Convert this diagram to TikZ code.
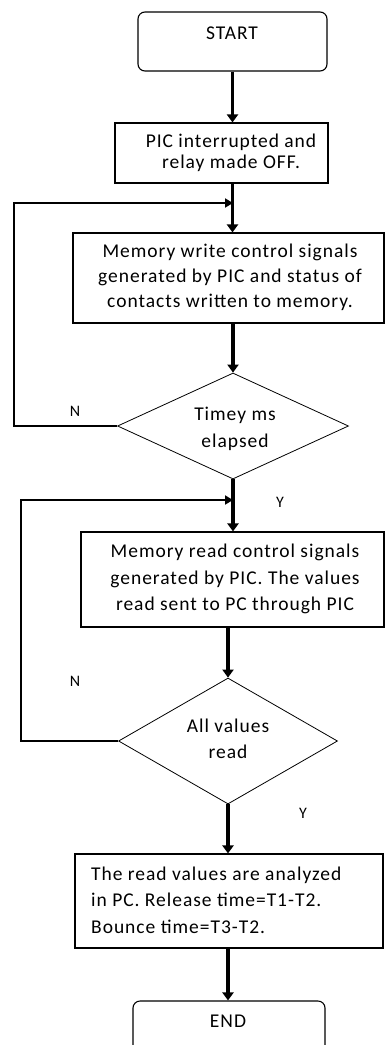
\documentclass[tikz,border=0pt]{standalone}
\usepackage{fontspec}
\setmainfont{Carlito}[LetterSpace=5]
\usetikzlibrary{shapes.geometric,arrows.meta}
\begin{document}
\begin{tikzpicture}[x=1pt,y=-1pt,
  box/.style={draw,line width=1.1pt,inner sep=0pt,rectangle},
  term/.style={draw,line width=1.1pt,rounded corners=7pt,inner sep=0pt,rectangle},
  dec/.style={draw,diamond,line width=0.8pt,inner sep=0pt,aspect=2},
  flow/.style={line width=3.6pt,-{Triangle[length=8pt,width=11pt]}},
  back/.style={line width=1.8pt,-{Triangle[length=8pt,width=9pt]}},
  txt/.style={font=\fontsize{19.5}{25}\selectfont,align=center,inner sep=0pt},
  lab/.style={font=\fontsize{16}{18}\selectfont,inner sep=0pt}]
\clip (0,0) rectangle (385,1045);
% shapes
\node[term,minimum width=189pt,minimum height=59pt] (start) at (232.5,41.5) {};
\node[box,minimum width=213pt,minimum height=60pt] (b2) at (221.5,153) {};
\node[box,minimum width=311pt,minimum height=90pt] (b3) at (228.5,278) {};
\node[dec,minimum width=231pt,minimum height=106pt] (d1) at (233,426) {};
\node[box,minimum width=303pt,minimum height=95pt] (b4) at (232.5,579.5) {};
\node[dec,minimum width=219pt,minimum height=126pt] (d2) at (228,741) {};
\node[box,minimum width=308pt,minimum height=94pt] (b5) at (229,901) {};
\node[term,minimum width=192pt,minimum height=60pt] (end) at (229,1031) {};
% texts
\node[txt] (tstart) at (232,33) {START};
\node[txt,font=\fontsize{19.5}{21}\selectfont] (t2) at (231,153) {PIC interrupted and\\relay made OFF.};
\node[txt] (t3) at (230,277) {Memory write control signals\\generated by PIC and status of\\contacts written to memory.};
\node[txt,font=\fontsize{19.5}{27}\selectfont] (td1) at (235,429) {Timey ms\\elapsed};
\node[txt,font=\fontsize{19.5}{26.5}\selectfont] (t4) at (235,579) {Memory read control signals\\generated by PIC. The values\\read sent to PC through PIC};
\node[txt,font=\fontsize{19.5}{26}\selectfont] (td2) at (228,739) {All values\\read};
\node[txt,align=left,anchor=west,font=\fontsize{19.5}{26.5}\selectfont] (t5) at (91,900) {The read values are analyzed\\in PC. Release time=T1-T2.\\Bounce time=T3-T2.};
\node[txt] (tend) at (228,1021) {END};
% labels
\node[lab] (n1) at (75,411) {N};
\node[lab] (y1) at (280,502) {Y};
\node[lab] (n2) at (75,681) {N};
\node[lab] (y2) at (303,813) {Y};
% junctions
\coordinate (j1) at (233,203);
\coordinate (c1) at (14,203);
\coordinate (j2) at (233,500);
\coordinate (c2) at (21,500);
% connectors
\draw[flow] (start.south) -- (start.south |- b2.north);
\draw[flow] (start.south |- b2.south) -- (start.south |- b3.north);
\draw[flow] (d1.north |- b3.south) -- (d1.north);
\draw[back] (d1.west) -| (c1) -- (j1);
\draw[flow] (d1.south) -- (d1.south |- b4.north);
\draw[flow] (d2.north |- b4.south) -- (d2.north);
\draw[back] (d2.west) -| (c2) -- (j2);
\draw[flow] (d2.south) -- (d2.south |- b5.north);
\draw[flow] (d2.south |- b5.south) -- (d2.south |- end.north);
\end{tikzpicture}
\end{document}
